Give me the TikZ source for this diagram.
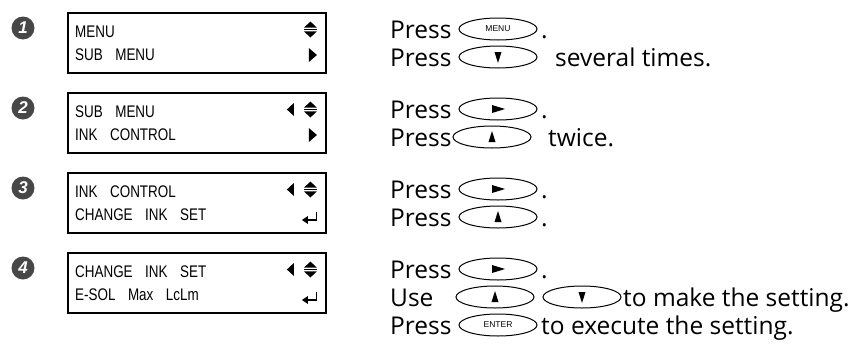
\documentclass[tikz,border=0pt]{standalone}
\usepackage{fontspec}
\setmainfont{Open Sans}
\newfontfamily\lcdfont[FakeStretch=0.8]{Liberation Sans}
\newfontfamily\numfont{Liberation Sans}
\usetikzlibrary{shapes.geometric}
\newcommand\lcdgap{\hspace{12.5pt}}
\tikzset{
  lcdbox/.style={draw,line width=1.9pt,minimum width=258pt,minimum height=60pt,inner sep=0pt,anchor=north west},
  lcdtxt/.style={anchor=base west,inner sep=0pt,font=\lcdfont\fontsize{16.8}{20}\selectfont},
  stepnum/.style={circle,fill=black!72,text=white,minimum size=23pt,inner sep=0pt,font=\numfont\bfseries\itshape\fontsize{17}{17}\selectfont},
  btn/.style={ellipse,draw,line width=1pt,minimum width=78pt,minimum height=22pt,inner sep=0pt,font=\numfont\fontsize{8.5}{8.5}\selectfont},
  txt/.style={anchor=base west,inner sep=0pt,font=\fontsize{24.5}{24.5}\selectfont},
  uptri/.pic={\fill (-3.5,5) -- (3.5,5) -- (0,-6) -- cycle;},
  dntri/.pic={\fill (-3.5,-5) -- (3.5,-5) -- (0,6) -- cycle;},
  rttri/.pic={\fill (-6,-4) -- (-6,4) -- (7,0) -- cycle;},
  lcdupdn/.pic={\fill (-6.5,-1.8) -- (6.5,-1.8) -- (0,-8) -- cycle;
                \draw[line width=1pt] (-6.5,0) -- (6.5,0);
                \fill (-6.5,1.8) -- (6.5,1.8) -- (0,8) -- cycle;},
  lcdleft/.pic={\fill (3.5,-6.5) -- (3.5,6.5) -- (-3.5,0) -- cycle;},
  lcdright/.pic={\fill (-4,-7) -- (-4,7) -- (4,0) -- cycle;},
  lcdenter/.pic={\draw[line width=1.3pt] (6.5,-5) -- (6.5,3) -- (-3,3);
                 \fill (-8,3) -- (-2,-1) -- (-2,7) -- cycle;}
}
\begin{document}
\begin{tikzpicture}[x=1pt,y=-1pt]
\useasboundingbox (0,0) rectangle (853,343);
% step numbers
\node[stepnum] (n1) at (23,28) {1};
\node[stepnum] (n2) at (23,108) {2};
\node[stepnum] (n3) at (23,188) {3};
\node[stepnum] (n4) at (23,268) {4};
% LCD boxes
\node[lcdbox] (bx1) at (67,12) {};
\node[lcdbox] (bx2) at (67,92) {};
\node[lcdbox] (bx3) at (67,172) {};
\node[lcdbox] (bx4) at (67,252) {};
% LCD texts
\node[lcdtxt] (l1a) at (75,37) {MENU};
\node[lcdtxt] (l1b) at (75,60) {SUB\lcdgap MENU};
\node[lcdtxt] (l2a) at (75,117) {SUB\lcdgap MENU};
\node[lcdtxt] (l2b) at (75,140) {INK\lcdgap CONTROL};
\node[lcdtxt] (l3a) at (75,197) {INK\lcdgap CONTROL};
\node[lcdtxt] (l3b) at (75,220) {CHANGE\lcdgap INK\lcdgap SET};
\node[lcdtxt] (l4a) at (75,277) {CHANGE\lcdgap INK\lcdgap SET};
\node[lcdtxt] (l4b) at (75,300) {E-SOL\lcdgap Max\lcdgap LcLm};
% LCD symbols
\pic at ([shift={(-16.5,17.5)}]bx1.north east) {lcdupdn};
\pic at ([shift={(-14,43)}]bx1.north east) {lcdright};
\pic at ([shift={(-16.5,17.5)}]bx2.north east) {lcdupdn};
\pic at ([shift={(-36.5,17.5)}]bx2.north east) {lcdleft};
\pic at ([shift={(-14,43)}]bx2.north east) {lcdright};
\pic at ([shift={(-16.5,17.5)}]bx3.north east) {lcdupdn};
\pic at ([shift={(-36.5,17.5)}]bx3.north east) {lcdleft};
\pic at ([shift={(-17,45)}]bx3.north east) {lcdenter};
\pic at ([shift={(-16.5,17.5)}]bx4.north east) {lcdupdn};
\pic at ([shift={(-36.5,17.5)}]bx4.north east) {lcdleft};
\pic at ([shift={(-17,45)}]bx4.north east) {lcdenter};
% step 1 text
\node[txt] (t1a) at (390,38) {Press};
\node[btn] (b1a) at (498,29) {MENU};
\node[txt] (d1a) at (541,38) {.};
\node[txt] (t1b) at (390,66) {Press};
\node[btn] (b1b) at (498,57) {};
\pic at (b1b) {dntri};
\node[txt] (e1b) at (555,66) {several times.};
% step 2 text
\node[txt] (t2a) at (390,118) {Press};
\node[btn] (b2a) at (498,109) {};
\pic at (b2a) {rttri};
\node[txt] (d2a) at (541,118) {.};
\node[txt] (t2b) at (390,146) {Press};
\node[btn] (b2b) at (492,137) {};
\pic at (b2b) {uptri};
\node[txt] (e2b) at (548,146) {twice.};
% step 3 text
\node[txt] (t3a) at (390,198) {Press};
\node[btn] (b3a) at (498,189) {};
\pic at (b3a) {rttri};
\node[txt] (d3a) at (541,198) {.};
\node[txt] (t3b) at (390,226) {Press};
\node[btn] (b3b) at (498,217) {};
\pic at (b3b) {uptri};
\node[txt] (d3b) at (541,226) {.};
% step 4 text
\node[txt] (t4a) at (390,278) {Press};
\node[btn] (b4a) at (498,269) {};
\pic at (b4a) {rttri};
\node[txt] (d4a) at (541,278) {.};
\node[txt] (t4b) at (390,306) {Use};
\node[btn] (b4b) at (495,297) {};
\pic at (b4b) {uptri};
\node[btn] (b4c) at (582,297) {};
\pic at (b4c) {dntri};
\node[txt] (e4b) at (623,306) {to make the setting.};
\node[txt] (t4c) at (390,334) {Press};
\node[btn] (b4d) at (498,325) {ENTER};
\node[txt] (e4c) at (541,334) {to execute the setting.};
\end{tikzpicture}
\end{document}
